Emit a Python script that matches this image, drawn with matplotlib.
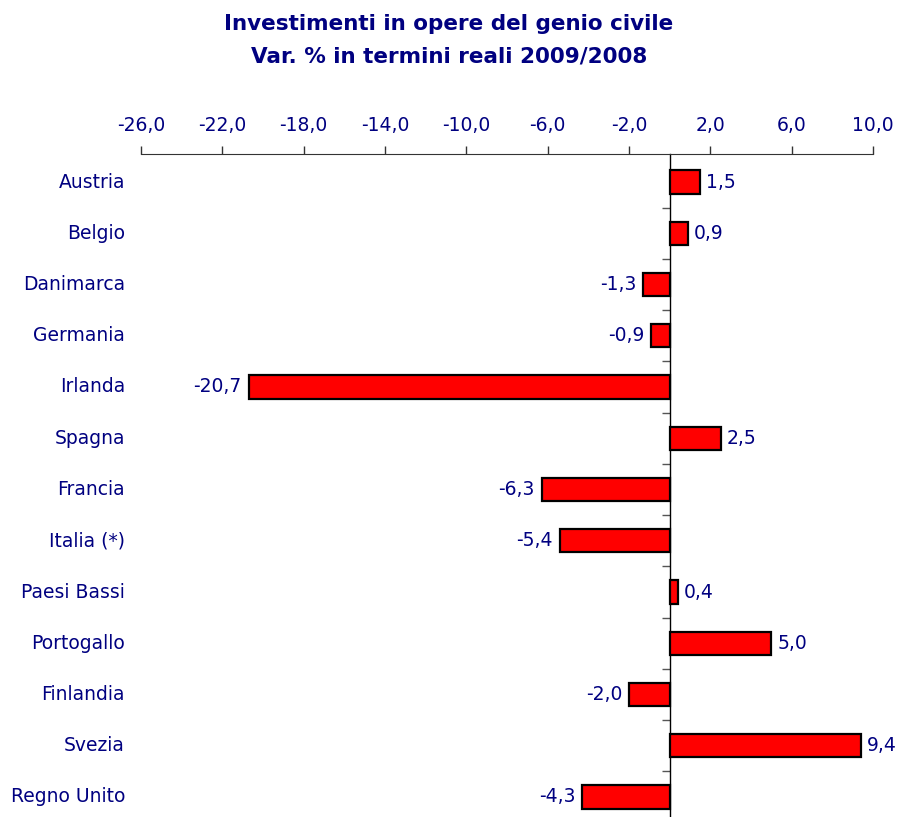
import matplotlib
matplotlib.use("Agg")
import matplotlib.pyplot as plt
import matplotlib.transforms as mtransforms

countries = ["Austria", "Belgio", "Danimarca", "Germania", "Irlanda", "Spagna",
             "Francia", "Italia (*)", "Paesi Bassi", "Portogallo", "Finlandia",
             "Svezia", "Regno Unito"]
values = [1.5, 0.9, -1.3, -0.9, -20.7, 2.5, -6.3, -5.4, 0.4, 5.0, -2.0, 9.4, -4.3]
xticks = [-26, -22, -18, -14, -10, -6, -2, 2, 6, 10]
title = "Investimenti in opere del genio civile\nVar. % in termini reali 2009/2008"

navy = "#000080"
plt.rcParams["font.family"] = ["DejaVu Sans"]

W, H = 898, 817
fig = plt.figure(figsize=(W / 100, H / 100), dpi=100)
# axes: x from 141 to 873 px, top at 154 px, bottom at figure bottom
left, right, top = 141, 873, 154
ax = fig.add_axes([left / W, 0, (right - left) / W, 1 - top / H])

n = len(countries)
ypos = list(range(n))
ax.barh(ypos, values, height=0.45, color="#FF0000", edgecolor="black",
        linewidth=1.6, zorder=3)

ax.set_xlim(-26, 10)
spacing = 51.25
ytop = -28 / spacing
ax.set_ylim(ytop + (H - top) / spacing, ytop)

# x axis on top
ax.xaxis.set_ticks_position("top")
ax.xaxis.set_label_position("top")
ax.set_xticks(xticks)
ax.set_xticklabels([f"{t:.1f}".replace(".", ",") for t in xticks],
                   fontsize=13.5, color=navy)
ax.tick_params(axis="x", direction="out", length=6, width=1, color="#333333",
               pad=8)
for s in ["bottom", "right"]:
    ax.spines[s].set_visible(False)
ax.spines["top"].set_color("#333333")
ax.spines["left"].set_position(("data", 0))
ax.spines["left"].set_color("black")
ax.spines["left"].set_linewidth(1.0)

# y ticks at category boundaries
ax.set_yticks([i + 0.5 for i in range(n - 1)])
ax.set_yticklabels([])
ax.tick_params(axis="y", direction="out", length=6, width=1, color="#555555")

# category labels
trans = mtransforms.blended_transform_factory(fig.transFigure, ax.transData)
for i, c in enumerate(countries):
    ax.text(125 / W, i, c, transform=trans, ha="right", va="center",
            fontsize=13.5, color=navy)

# value labels
for i, v in enumerate(values):
    lab = f"{v:.1f}".replace(".", ",")
    if v >= 0:
        ax.annotate(lab, (v, i), xytext=(4.5, 0), textcoords="offset points",
                    ha="left", va="center", fontsize=13.5, color=navy)
    else:
        ax.annotate(lab, (v, i), xytext=(-5, 0), textcoords="offset points",
                    ha="right", va="center", fontsize=13.5, color=navy)

fig.text(0.5, 1 - 40 / H, title, ha="center", va="center", fontsize=15.5,
         fontweight="bold", color=navy, linespacing=1.75)

fig.savefig("out.png", dpi=100)
